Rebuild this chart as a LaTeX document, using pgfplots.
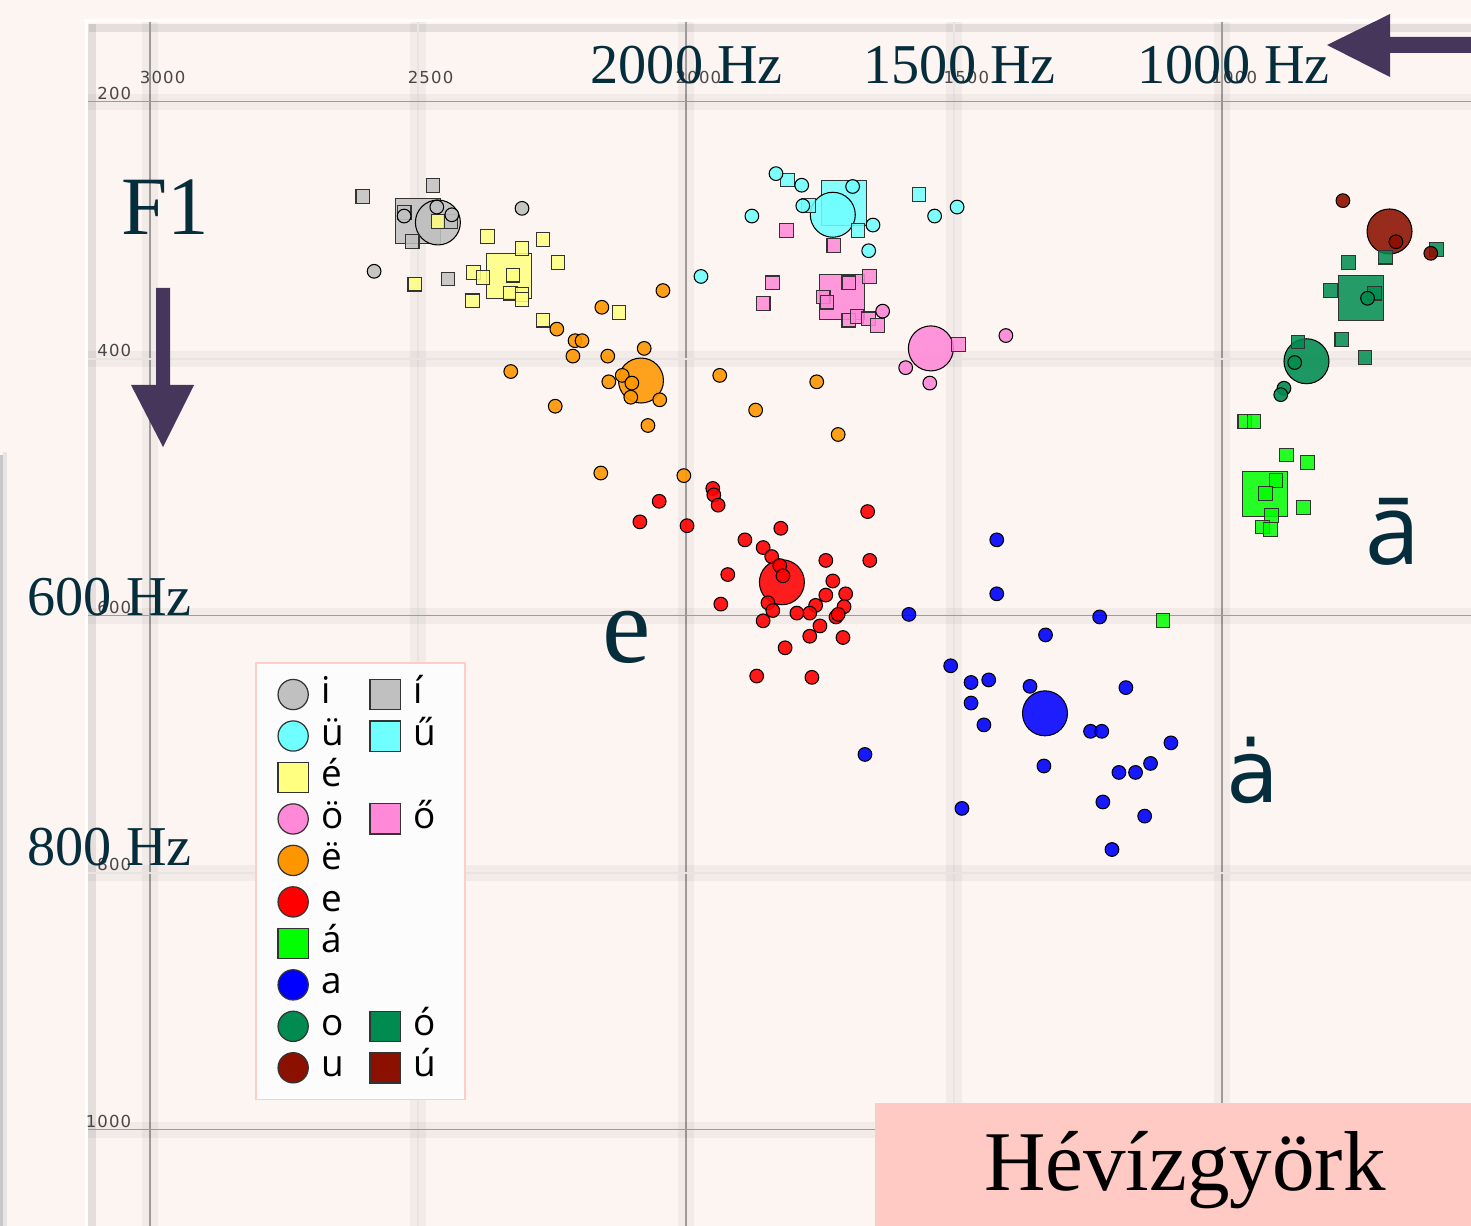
\documentclass[border=0pt]{standalone}
\usepackage{fontspec}
\usepackage{pgfplots}
\pgfplotsset{compat=1.18}
\setmainfont{Liberation Serif}
\newfontfamily\legf{Open Sans}
\newfontfamily\sanf{Open Sans}
\newfontfamily\djf{DejaVu Sans}
\newfontfamily\tickf[LetterSpace=7]{DejaVu Sans}
\definecolor{bgc}{RGB}{253,245,242}
\definecolor{tealc}{RGB}{5,45,60}
\definecolor{arrc}{RGB}{70,54,92}
\definecolor{boxc}{RGB}{255,202,196}
\definecolor{gridc}{RGB}{160,155,155}
\definecolor{gridl}{RGB}{232,228,228}
\definecolor{cI}{RGB}{192,192,192}
\definecolor{cUE}{RGB}{112,255,255}
\definecolor{cEE}{RGB}{255,255,128}
\definecolor{cOE}{RGB}{255,136,216}
\definecolor{cEB}{RGB}{255,150,0}
\definecolor{cE}{RGB}{255,0,0}
\definecolor{cAA}{RGB}{0,255,0}
\definecolor{cA}{RGB}{0,0,255}
\definecolor{cO}{RGB}{0,140,80}
\definecolor{cU}{RGB}{140,16,0}
\pgfplotsset{
  sc/.style={only marks, mark=*, mark size=1.95pt, mark options={draw=black, line width=0.3pt, fill=#1, fill opacity=0.9}, forget plot},
  ss/.style={only marks, mark=square*, mark size=1.95pt, mark options={draw=black!80, line width=0.3pt, fill=#1, fill opacity=0.85}, forget plot},
  bc/.style={only marks, mark=*, mark size=6.4pt, mark options={draw=black, line width=0.3pt, fill=#1, fill opacity=0.88}, forget plot},
  bs/.style={only marks, mark=square*, mark size=6.4pt, mark options={draw=black!80, line width=0.3pt, fill=#1, fill opacity=0.85}, forget plot},
  lc/.style={only marks, mark=*, mark size=4.3pt, mark options={draw=black!80, line width=0.35pt, fill=#1}},
  ls/.style={only marks, mark=square*, mark size=4.3pt, mark options={draw=black!80, line width=0.35pt, fill=#1}},
}
\begin{document}
\begin{tikzpicture}
\path[use as bounding box] (0,0) rectangle (14.71cm,12.26cm);
\clip (0,0) rectangle (14.71cm,12.26cm);
\fill[bgc] (0,0) rectangle (14.71cm,12.26cm);
\begin{scope}[x=0.1mm,y=-0.1mm,yshift=12.26cm]
  \fill[black!22] (0,455) rectangle (3,1226);
  \fill[black!10] (3,452) rectangle (7,1226);
  \draw[black, opacity=0.09, line width=0.8mm] (89,28) -- (1471,28);
  \draw[black, opacity=0.09, line width=0.8mm] (92,24) -- (92,1226);
  \draw[white, line width=0.3mm] (84,21) -- (1471,21);
  \draw[white, line width=0.3mm] (86,20) -- (86,1226);
\end{scope}
\begin{axis}[
  at={(0.88cm,0cm)}, anchor=south west,
  width=13.83cm, height=12.04cm, scale only axis,
  x dir=reverse, y dir=reverse,
  xmin=535, xmax=3116, ymin=138, ymax=1075,
  axis line style={draw=none},
  xtick={3000,2000,1000}, xticklabels={3000,2000,1000},
  ytick={200,600,1000}, yticklabels={200,600,1000},
  minor xtick={2500,1500}, minor ytick={400,800},
  extra x ticks={2500,1500}, extra x tick labels={2500,1500},
  extra y ticks={400,800}, extra y tick labels={400,800},
  extra x tick style={grid=none}, extra y tick style={grid=none},
  xticklabel pos=right,
  major tick length=0pt, minor tick length=0pt,
  grid=both,
  major grid style={draw=gridc, line width=0.45pt, preaction={draw=black, opacity=0.04, line width=4.5pt}},
  minor grid style={draw=gridl, line width=0.5pt, preaction={draw=black, opacity=0.04, line width=4.5pt}},
  xticklabel style={anchor=center, inner sep=0pt, xshift=0.125cm, yshift=-0.555cm, font=\tickf\fontsize{4.7pt}{5pt}\selectfont, text=black!72},
  yticklabel style={anchor=east, inner sep=0pt, xshift=0.44cm, yshift=0.085cm, font=\tickf\fontsize{4.7pt}{5pt}\selectfont, text=black!72},
  legend columns=2,
  legend cell align=left,
  legend image code/.code={\draw[#1] plot coordinates {(0.15cm,0cm)};},
  legend style={at={(axis cs:2804,636)}, anchor=north west,
    draw={rgb,255:red,255;green,205;blue,200}, line width=0.5pt,
    fill={rgb,255:red,252;green,252;blue,252},
    font=\legf\fontsize{10.5pt}{12pt}\selectfont,
    inner xsep=0.22cm, inner ysep=0.11cm, row sep=0pt,
    nodes={text height=8.5pt, text depth=3.3pt, inner ysep=0pt},
    /tikz/every odd column/.append style={column sep=0.06cm},
    /tikz/every even column/.append style={column sep=0.19cm}},
]
% big squares
\addplot[bs=cI] coordinates {(2500,293)};
\addplot[bs=cUE] coordinates {(1705,279)};
\addplot[bs=cEE] coordinates {(2330,336)};
\addplot[bs=cOE] coordinates {(1709,352)};
\addplot[bs=cAA] coordinates {(920,505)};
\addplot[bs=cO] coordinates {(741,353)};
% big circles
\addplot[bc=cI] coordinates {(2463,294)};
\addplot[bc=cUE] coordinates {(1726,288)};
\addplot[bc=cOE] coordinates {(1543,392)};
\addplot[bc=cEB] coordinates {(2084,417)};
\addplot[bc=cE] coordinates {(1821,574)};
\addplot[bc=cA] coordinates {(1330,676)};
\addplot[bc=cO] coordinates {(842,402)};
\addplot[bc=cU] coordinates {(687,301)};
% small squares
\addplot[ss=cI] coordinates {(2603,274) (2472,265) (2526,286) (2439,293) (2511,309) (2444,338)};
\addplot[ss=cEE] coordinates {(2463,293) (2370,305) (2306,314) (2267,307) (2239,325) (2396,333) (2379,337) (2323,335) (2327,349) (2306,350) (2306,354) (2506,342) (2398,355) (2267,370) (2125,364)};
\addplot[ss=cUE] coordinates {(1810,261) (1771,281) (1679,300) (1565,272)};
\addplot[ss=cOE] coordinates {(1812,300) (1724,312) (1696,341) (1657,336) (1838,341) (1856,357) (1744,352) (1737,356) (1696,370) (1681,367) (1659,369) (1642,374) (1491,389)};
\addplot[ss=cAA] coordinates {(1110,604) (957,449) (940,449) (879,475) (840,481) (899,495) (918,505) (847,516) (907,522) (924,531) (909,533)};
\addplot[ss=cO] coordinates {(599,315) (694,321) (763,325) (797,347) (715,349) (776,385) (733,399) (858,387)};
% small circles
\addplot[sc=cI] coordinates {(2526,289) (2465,282) (2437,288) (2306,283) (2582,332)};
\addplot[sc=cUE] coordinates {(1832,256) (1784,265) (1689,266) (1782,281) (1651,296) (1877,289) (1659,316) (1536,289) (1494,282) (1972,336)};
\addplot[sc=cOE] coordinates {(1633,363) (1590,407) (1545,419) (1403,382)};
\addplot[sc=cEB] coordinates {(2157,360) (2241,377) (2207,386) (2194,386) (2211,398) (2146,398) (2043,347) (2078,392) (2327,410) (2119,413) (2101,419) (2144,418) (2103,430) (2049,432) (2244,437) (2071,452) (1937,413) (1756,418) (1870,440) (1716,459) (2159,489) (2004,491)};
\addplot[sc=cE] coordinates {(1950,501) (1948,506) (1940,514) (2050,511) (2086,527) (1998,530) (1661,519) (1823,532) (1890,541) (1856,547) (1840,554) (1825,561) (1819,569) (1739,557) (1657,557) (1922,568) (1726,573) (1702,583) (1739,584) (1847,590) (1838,596) (1758,592) (1769,598) (1793,598) (1705,593) (1720,601) (1716,599) (1935,591) (1856,604) (1750,608) (1769,616) (1707,617) (1815,625) (1868,647) (1765,648)};
\addplot[sc=cA] coordinates {(1420,541) (1420,583) (1584,599) (1228,601) (1329,615) (1506,639) (1468,652) (1435,650) (1358,655) (1468,668) (1444,685) (1179,656) (1245,690) (1224,690) (1095,699) (1666,708) (1332,717) (1133,715) (1192,722) (1161,722) (1222,745) (1144,756) (1485,750) (1205,782)};
\addplot[sc=cO] coordinates {(728,353) (864,403) (884,423) (890,428)};
\addplot[sc=cU] coordinates {(774,277) (675,309) (610,318)};
% legend
\addlegendimage{lc=cI}\addlegendentry{i}
\addlegendimage{ls=cI}\addlegendentry{í}
\addlegendimage{lc=cUE}\addlegendentry{ü}
\addlegendimage{ls=cUE}\addlegendentry{ű}
\addlegendimage{ls=cEE}\addlegendentry{é}
\addlegendimage{empty legend}\addlegendentry{}
\addlegendimage{lc=cOE}\addlegendentry{ö}
\addlegendimage{ls=cOE}\addlegendentry{ő}
\addlegendimage{lc=cEB}\addlegendentry{ë}
\addlegendimage{empty legend}\addlegendentry{}
\addlegendimage{lc=cE}\addlegendentry{e}
\addlegendimage{empty legend}\addlegendentry{}
\addlegendimage{ls=cAA}\addlegendentry{á}
\addlegendimage{empty legend}\addlegendentry{}
\addlegendimage{lc=cA}\addlegendentry{a}
\addlegendimage{empty legend}\addlegendentry{}
\addlegendimage{lc=cO}\addlegendentry{o}
\addlegendimage{ls=cO}\addlegendentry{ó}
\addlegendimage{lc=cU}\addlegendentry{u}
\addlegendimage{ls=cU}\addlegendentry{ú}
\end{axis}
\begin{scope}[x=0.1mm,y=-0.1mm,yshift=12.26cm]
  \fill[arrc] (1471,37) -- (1390,37) -- (1390,14) -- (1327,45) -- (1390,77) -- (1390,53) -- (1471,53) -- cycle;
  \fill[arrc] (156,288) -- (170,288) -- (170,385) -- (194,385) -- (163,447) -- (131,385) -- (156,385) -- cycle;
  \begin{scope}[every node/.style={inner sep=0pt, anchor=base west, text=tealc}]
    \node[font=\fontsize{16pt}{16pt}\selectfont] at (590,84) {2000 Hz};
    \node[font=\fontsize{16pt}{16pt}\selectfont] at (863,84) {1500 Hz};
    \node[font=\fontsize{16pt}{16pt}\selectfont] at (1137,84) {1000 Hz};
    \node[font=\fontsize{16pt}{16pt}\selectfont] at (27,615) {600 Hz};
    \node[font=\fontsize{16pt}{16pt}\selectfont] at (27,865) {800 Hz};
    \node[font=\fontsize{23.6pt}{24pt}\selectfont] at (121,235) {F1};
    \node[font=\fontsize{31pt}{31pt}\selectfont] at (602,662) {e};
    \node[font=\sanf\fontsize{28pt}{28pt}\selectfont] at (1365,564) {ā};
    \node[font=\djf\fontsize{24.5pt}{25pt}\selectfont] at (1226,802) {ȧ};
  \end{scope}
  \fill[boxc] (875,1103) rectangle (1471,1226);
  \node[inner sep=0pt, anchor=base, text=black, font=\fontsize{24.2pt}{25pt}\selectfont] at (1185,1190) {Hévízgyörk};
\end{scope}
\end{tikzpicture}
\end{document}
